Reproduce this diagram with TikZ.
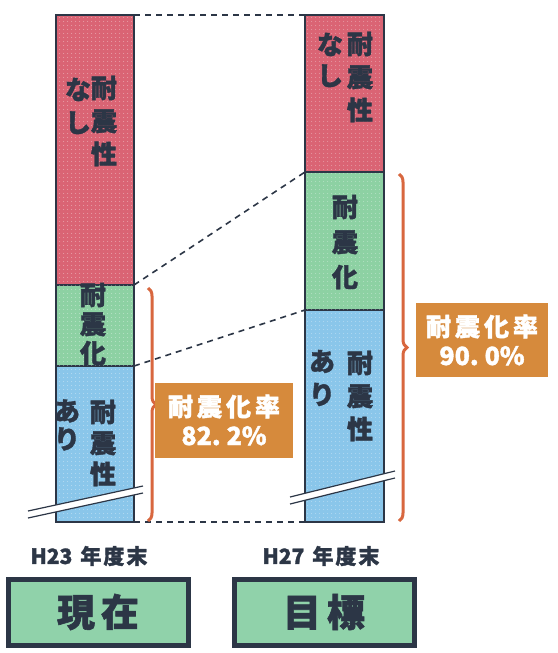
\documentclass[tikz,border=0pt]{standalone}
\usepackage{fontspec}
\newfontfamily\cjk{Noto Sans CJK JP}[BoldFeatures={FakeBold=1.5}]
\usetikzlibrary{decorations.pathreplacing,patterns.meta}
\definecolor{redfill}{HTML}{DA6474}
\definecolor{greenfill}{HTML}{8DD1A3}
\definecolor{bluefill}{HTML}{8AC6EA}
\definecolor{boxorange}{HTML}{D68A3C}
\definecolor{bracecol}{HTML}{D8673F}
\definecolor{dark}{HTML}{2C3646}
\definecolor{labelgreen}{HTML}{90D2AA}
\tikzset{
  seg/.style={draw=dark, line width=1.4pt},
  dots/.style={pattern={Dots[distance=4pt, radius=0.6pt]}, pattern color=white, fill opacity=0.4},
  vcol/.style={font=\cjk\bfseries\fontsize{26}{#1}\selectfont, text=dark, align=center, inner sep=0pt},
  conn/.style={draw=dark, line width=1.6pt, dash pattern=on 6pt off 5pt},
  bracestyle/.style={draw=bracecol, line width=3pt, decorate, decoration={brace, amplitude=8pt}},
  ratebox/.style={fill=boxorange, text=white, align=center, inner sep=0pt, font=\cjk\bfseries\fontsize{25}{29}\selectfont},
  breakline/.style={draw=dark, line width=1.2pt},
  yearlabel/.style={font=\cjk\bfseries\fontsize{21}{22}\selectfont, text=dark, inner sep=0pt},
  titlebox/.style={draw=dark, line width=5pt, fill=labelgreen, text=dark, font=\cjk\bfseries\fontsize{38}{42}\selectfont, inner sep=0pt},
}
\newcommand{\chsp}{\hspace{4pt}}
\begin{document}
\begin{tikzpicture}[x=1pt,y=-1pt]
\useasboundingbox (0,0) rectangle (557,653);
% left bar segments
\path[seg, fill=redfill] (56,15) rectangle (134,285);
\path[seg, fill=greenfill] (56,285) rectangle (134,366);
\path[seg, fill=bluefill] (56,366) rectangle (134,522);
% right bar segments
\path[seg, fill=redfill] (305,15) rectangle (384,172);
\path[seg, fill=greenfill] (305,172) rectangle (384,310);
\path[seg, fill=bluefill] (305,310) rectangle (384,522);
% dot texture
\path[dots] (58,17) rectangle (132,520);
\path[dots] (307,17) rectangle (382,520);
% named corners
\coordinate (LT) at (134,15);
\coordinate (LRG) at (134,285);
\coordinate (LGB) at (134,366);
\coordinate (LB) at (134,522);
\coordinate (RT) at (305,15);
\coordinate (RRG) at (305,172);
\coordinate (RGB) at (305,310);
\coordinate (RB) at (305,522);
\draw[conn] (LT) -- (RT);
\draw[conn] (LRG) -- (RRG);
\draw[conn] (LGB) -- (RGB);
\draw[conn] (LB) -- (RB);
% texts left bar
\node[vcol=33] (lnashi) at (78,106) {な\\し};
\node[vcol=33] (lred) at (104,121) {耐\\震\\性};
\node[vcol=29] (lgreen) at (93,324) {耐\\震\\化};
\node[vcol=28] (lari) at (67,425) {あ\\り};
\node[vcol=31] (lblue) at (103,443) {耐\\震\\性};
% texts right bar
\node[vcol=31] (rnashi) at (330,60) {な\\し};
\node[vcol=33] (rred) at (360,77) {耐\\震\\性};
\node[vcol=35] (rgreen) at (345,242) {耐\\震\\化};
\node[vcol=33] (rari) at (322,378) {あ\\り};
\node[vcol=33] (rblue) at (360,396) {耐\\震\\性};
% break marks
\path[fill=white] (28,511) -- (143,486) -- (143,493) -- (28,518) -- cycle;
\coordinate (lb1a) at (28,511); \coordinate (lb1b) at (143,486);
\coordinate (lb2a) at (28,518); \coordinate (lb2b) at (143,493);
\draw[breakline] (lb1a) -- (lb1b);
\draw[breakline] (lb2a) -- (lb2b);
\path[fill=white] (290,497) -- (395,471) -- (395,478) -- (290,504) -- cycle;
\coordinate (rb1a) at (290,497); \coordinate (rb1b) at (395,471);
\coordinate (rb2a) at (290,504); \coordinate (rb2b) at (395,478);
\draw[breakline] (rb1a) -- (rb1b);
\draw[breakline] (rb2a) -- (rb2b);
% braces
\coordinate (lbt) at (148,288);
\coordinate (lbb) at (148,521);
\draw[bracestyle] (lbt) -- (lbb);
\coordinate (rbt) at (399,174);
\coordinate (rbb) at (399,521);
\draw[bracestyle] (rbt) -- (rbb);
% rate boxes
\node[ratebox, minimum width=138pt, minimum height=75pt] (lrate) at (224,420) {耐\chsp 震\chsp 化\chsp 率\\82.\hspace{6pt}2\%};
\node[ratebox, minimum width=132pt, minimum height=74pt] (rrate) at (482,340) {耐\chsp 震\chsp 化\chsp 率\\90.\hspace{6pt}0\%};
% year labels
\node[yearlabel] (lyear) at (89,556) {H23\hspace{8pt}年\hspace{2pt}度\hspace{2pt}末};
\node[yearlabel] (ryear) at (321,556) {H27\hspace{8pt}年\hspace{2pt}度\hspace{2pt}末};
% title boxes
\node[titlebox, minimum width=180pt, minimum height=66pt] (now) at (98,612) {現\hspace{6pt}在};
\node[titlebox, minimum width=180pt, minimum height=66pt] (goal) at (324,612) {目\hspace{6pt}標};
\end{tikzpicture}
\end{document}
